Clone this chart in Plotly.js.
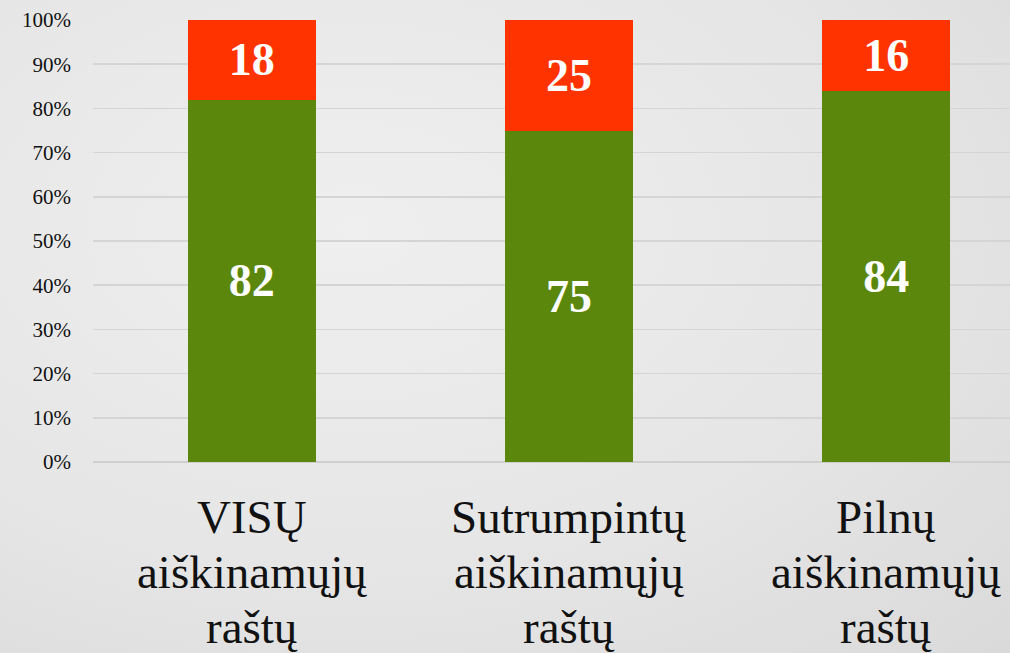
<!DOCTYPE html>
<html>
<head>
<meta charset="utf-8">
<script src="https://cdn.plot.ly/plotly-3.0.1.min.js"></script>
<style>
  html, body { margin: 0; padding: 0; }
  body { width: 1010px; height: 653px; overflow: hidden;
         background: radial-gradient(ellipse at 35% 35%, #efefef 0%, #e6e6e6 55%, #dadada 100%); }
  #chart { width: 1010px; height: 653px; }
</style>
</head>
<body>
<div id="chart"></div>
<script>
const categories = ["VISŲ aiškinamųjų raštų", "Sutrumpintų aiškinamųjų raštų", "Pilnų aiškinamųjų raštų"];
const labelLines = [
  ["VISŲ", "aiškinamųjų", "raštų"],
  ["Sutrumpintų", "aiškinamųjų", "raštų"],
  ["Pilnų", "aiškinamųjų", "raštų"]
];
const greenValues = [82, 75, 84];
const redValues = [18, 25, 16];
const yTicks = [0, 10, 20, 30, 40, 50, 60, 70, 80, 90, 100];

const xIdx = categories.map((c, i) => i);
const SERIF = "Liberation Serif";

const valueFont = { family: SERIF, size: 46, color: "#ffffff", weight: 700 };

const traces = [
  {
    type: "bar", x: xIdx, y: greenValues, text: greenValues.map(String),
    textposition: "inside", insidetextanchor: "middle", textangle: 0,
    textfont: valueFont, marker: { color: "#5a870c" }, width: 0.404,
    hoverinfo: "skip", showlegend: false
  },
  {
    type: "bar", x: xIdx, y: redValues, text: redValues.map(String),
    textposition: "inside", insidetextanchor: "middle", textangle: 0,
    textfont: valueFont, marker: { color: "#ff3300" }, width: 0.404,
    hoverinfo: "skip", showlegend: false
  }
];

const lineY = [-0.1244, -0.2489, -0.3733];
const annotations = [];
labelLines.forEach((lines, i) => {
  lines.forEach((t, j) => {
    annotations.push({
      x: i, xref: "x", y: lineY[j], yref: "paper",
      text: t, showarrow: false, xanchor: "center", yanchor: "middle",
      font: { family: SERIF, size: 47, color: "#111111" }
    });
  });
});

const layout = {
  width: 1010, height: 653,
  margin: { l: 93, r: 0, t: 20, b: 191 },
  paper_bgcolor: "rgba(0,0,0,0)", plot_bgcolor: "rgba(0,0,0,0)",
  barmode: "stack",
  font: { family: SERIF },
  xaxis: {
    range: [-0.5, 2.39], showticklabels: false, showgrid: false,
    zeroline: false, showline: false, ticks: "", fixedrange: true
  },
  yaxis: {
    range: [0, 100], tickvals: yTicks, ticktext: yTicks.map(v => v + "%"),
    showgrid: true, gridcolor: "#d5d5d5", gridwidth: 1.5,
    zeroline: true, zerolinecolor: "#cfcfcf", zerolinewidth: 1.5,
    showline: false, ticks: "", ticklabelstandoff: 21,
    tickfont: { family: SERIF, size: 21, color: "#111111" },
    fixedrange: true
  },
  annotations: annotations
};

Plotly.newPlot("chart", traces, layout, { displayModeBar: false, staticPlot: true });
</script>
</body>
</html>
